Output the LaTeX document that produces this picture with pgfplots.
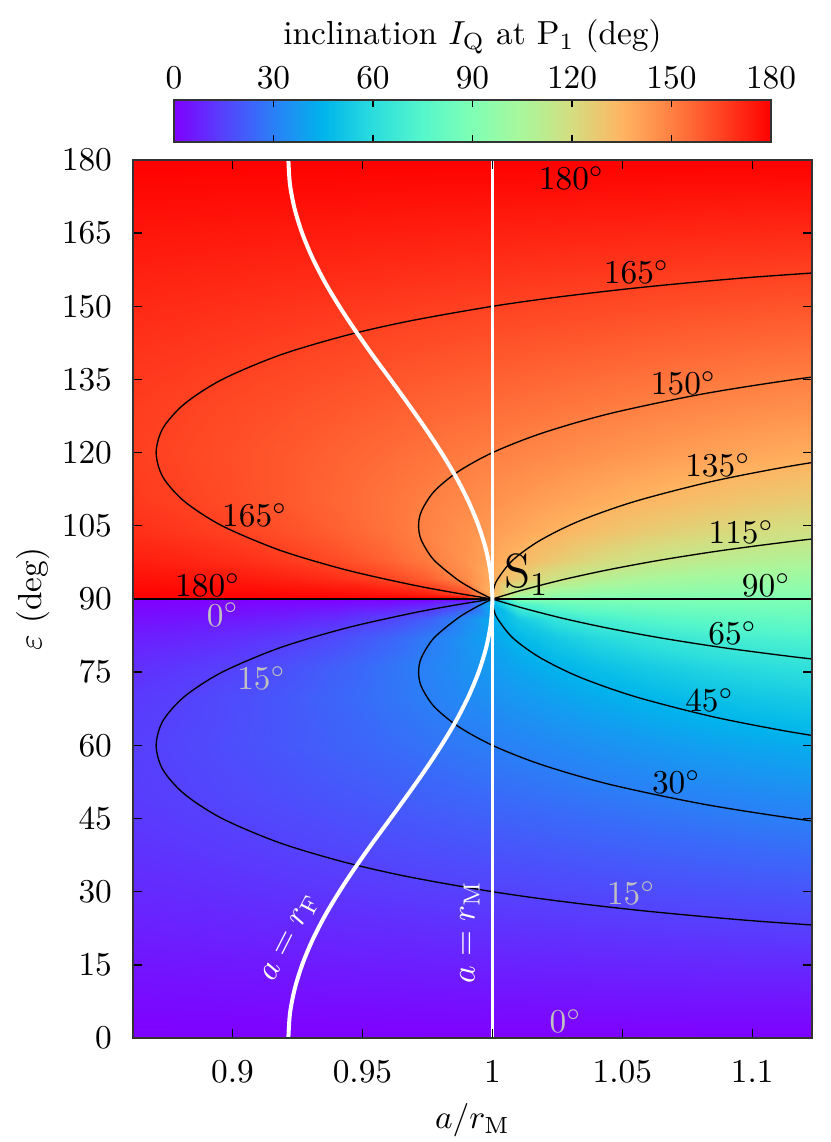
\documentclass[border=0pt]{standalone}
\usepackage{pgfplots}
\pgfplotsset{compat=1.18}
\definecolor{lblgray}{RGB}{192,192,192}
\begin{document}
\begin{tikzpicture}
\begin{axis}[
  name=main,
  scale only axis,
  width=203.7pt, height=263.4pt,
  xmin=0.8617, xmax=1.123, ymin=0, ymax=180,
  xtick={0.9,0.95,1,1.05,1.1},
  xticklabels={0.9,0.95,1,1.05,1.1},
  ytick={0,15,...,180},
  tick align=inside,
  major tick length=2.7pt,
  axis line style={black!80, line width=0.4pt},
  tick style={black, line width=0.4pt},
  axis on top,
  xticklabel style={yshift=-3.3pt},
  yticklabel style={xshift=-2.8pt},
  xlabel={$a/r_\mathrm{M}$},
  ylabel={$\varepsilon$ (deg)},
  xlabel style={at={(axis description cs:0.5,-0.0934)}, anchor=center},
  ylabel style={at={(axis description cs:-0.1473,0.5)}, anchor=center},
  colormap={gprb}{rgb=(0.5,0,1) rgb=(0.3333,0.2588,0.9914) rgb=(0.1667,0.5,0.9659)
    rgb=(0,0.7071,0.9239) rgb=(0.1667,0.8660,0.8660) rgb=(0.3333,0.9659,0.7934)
    rgb=(0.5,1,0.7071) rgb=(0.6667,0.9659,0.6088) rgb=(0.8333,0.8660,0.5)
    rgb=(1,0.7071,0.3827) rgb=(1,0.5,0.2588) rgb=(1,0.2588,0.1305) rgb=(1,0,0)},
  point meta min=0, point meta max=180,
  colorbar horizontal,
  colorbar style={
    at={(0.5,1.0205)}, anchor=south,
    scale only axis, width=179.1pt, height=12.6pt,
    xtick={0,30,...,180},
    xticklabel pos=upper,
    xtick pos=both,
    tick align=inside, major tick length=2.1pt,
    axis line style={black!80, line width=0.4pt},
    tick style={black, line width=0.4pt},
    xlabel={inclination $I_\mathrm{Q}$ at P$_1$ (deg)},
    xlabel style={at={(axis description cs:0.5,1)}, anchor=center, yshift=18.9pt},
  },
]
% lower half surface (epsilon 0..90)
\addplot[surf, shader=interp, point meta=explicit, mesh/cols=16] coordinates {
(0.8617,0)[0] (0.88,0)[0] (0.90,0)[0] (0.92,0)[0] (0.94,0)[0] (0.96,0)[0] (0.975,0)[0] (0.99,0)[0] (1.0,0)[0] (1.01,0)[0] (1.025,0)[0] (1.04,0)[0] (1.06,0)[0] (1.08,0)[0] (1.10,0)[0] (1.123,0)[0]
(0.8617,10)[3.2] (0.88,10)[3.4] (0.90,10)[3.7] (0.92,10)[4.0] (0.94,10)[4.2] (0.96,10)[4.5] (0.975,10)[4.7] (0.99,10)[4.9] (1.0,10)[5.0] (1.01,10)[5.1] (1.025,10)[5.3] (1.04,10)[5.5] (1.06,10)[5.7] (1.08,10)[6.0] (1.10,10)[6.2] (1.123,10)[6.4]
(0.8617,20)[6.4] (0.88,20)[6.8] (0.90,20)[7.3] (0.92,20)[7.9] (0.94,20)[8.4] (0.96,20)[8.9] (0.975,20)[9.3] (0.99,20)[9.7] (1.0,20)[10.0] (1.01,20)[10.3] (1.025,20)[10.6] (1.04,20)[11.0] (1.06,20)[11.5] (1.08,20)[12.0] (1.10,20)[12.4] (1.123,20)[12.9]
(0.8617,30)[9.3] (0.88,30)[9.9] (0.90,30)[10.8] (0.92,30)[11.6] (0.94,30)[12.5] (0.96,30)[13.3] (0.975,30)[14.0] (0.99,30)[14.6] (1.0,30)[15.0] (1.01,30)[15.4] (1.025,30)[16.0] (1.04,30)[16.6] (1.06,30)[17.4] (1.08,30)[18.1] (1.10,30)[18.8] (1.123,30)[19.6]
(0.8617,40)[11.8] (0.88,40)[12.7] (0.90,40)[13.9] (0.92,40)[15.1] (0.94,40)[16.3] (0.96,40)[17.6] (0.975,40)[18.5] (0.99,40)[19.4] (1.0,40)[20.0] (1.01,40)[20.6] (1.025,40)[21.5] (1.04,40)[22.3] (1.06,40)[23.5] (1.08,40)[24.5] (1.10,40)[25.6] (1.123,40)[26.6]
(0.8617,50)[13.6] (0.88,50)[14.9] (0.90,50)[16.5] (0.92,50)[18.1] (0.94,50)[19.8] (0.96,50)[21.5] (0.975,50)[22.9] (0.99,50)[24.1] (1.0,50)[25.0] (1.01,50)[25.9] (1.025,50)[27.1] (1.04,50)[28.3] (1.06,50)[29.9] (1.08,50)[31.4] (1.10,50)[32.8] (1.123,50)[34.2]
(0.8617,60)[14.3] (0.88,60)[15.9] (0.90,60)[18.0] (0.92,60)[20.2] (0.94,60)[22.6] (0.96,60)[25.0] (0.975,60)[26.9] (0.99,60)[28.8] (1.0,60)[30.0] (1.01,60)[31.2] (1.025,60)[33.0] (1.04,60)[34.8] (1.06,60)[37.0] (1.08,60)[39.1] (1.10,60)[41.0] (1.123,60)[42.9]
(0.8617,70)[13.0] (0.88,70)[14.8] (0.90,70)[17.4] (0.92,70)[20.3] (0.94,70)[23.6] (0.96,70)[27.2] (0.975,70)[30.1] (0.99,70)[33.0] (1.0,70)[35.0] (1.01,70)[37.0] (1.025,70)[39.8] (1.04,70)[42.5] (1.06,70)[45.8] (1.08,70)[48.8] (1.10,70)[51.4] (1.123,70)[53.8]
(0.8617,76)[10.7] (0.88,76)[12.5] (0.90,76)[15.0] (0.92,76)[18.3] (0.94,76)[22.2] (0.96,76)[26.9] (0.975,76)[30.9] (0.99,76)[35.1] (1.0,76)[38.0] (1.01,76)[40.9] (1.025,76)[44.9] (1.04,76)[48.7] (1.06,76)[53.1] (1.08,76)[56.7] (1.10,76)[59.6] (1.123,76)[62.1]
(0.8617,82)[6.9] (0.88,82)[8.2] (0.90,82)[10.3] (0.92,82)[13.2] (0.94,82)[17.2] (0.96,82)[23.1] (0.975,82)[28.9] (0.99,82)[35.9] (1.0,82)[41.0] (1.01,82)[46.0] (1.025,82)[52.8] (1.04,82)[58.4] (1.06,82)[63.9] (1.08,82)[67.8] (1.10,82)[70.5] (1.123,82)[72.7]
(0.8617,86)[3.6] (0.88,86)[4.4] (0.90,86)[5.6] (0.92,86)[7.4] (0.94,86)[10.3] (0.96,86)[15.3] (0.975,86)[21.9] (0.99,86)[33.1] (1.0,86)[43.0] (1.01,86)[52.8] (1.025,86)[63.7] (1.04,86)[70.2] (1.06,86)[75.1] (1.08,86)[77.9] (1.10,86)[79.7] (1.123,86)[81.0]
(0.8617,89)[0.9] (0.88,89)[1.1] (0.90,89)[1.4] (0.92,89)[1.9] (0.94,89)[2.7] (0.96,89)[4.4] (0.975,89)[7.2] (0.99,89)[16.9] (1.0,89)[44.5] (1.01,89)[72.0] (1.025,89)[81.6] (1.04,89)[84.4] (1.06,89)[86.1] (1.08,89)[86.9] (1.10,89)[87.4] (1.123,89)[87.7]
(0.8617,90)[0] (0.88,90)[0] (0.90,90)[0] (0.92,90)[0] (0.94,90)[0] (0.96,90)[0] (0.975,90)[0] (0.99,90)[0] (1.0,90)[45] (1.01,90)[90] (1.025,90)[90] (1.04,90)[90] (1.06,90)[90] (1.08,90)[90] (1.10,90)[90] (1.123,90)[90]
};
% upper half surface (epsilon 90..180)
\addplot[surf, shader=interp, point meta=explicit, mesh/cols=16] coordinates {
(0.8617,90)[180] (0.88,90)[180] (0.90,90)[180] (0.92,90)[180] (0.94,90)[180] (0.96,90)[180] (0.975,90)[180] (0.99,90)[180] (1.0,90)[135] (1.01,90)[90] (1.025,90)[90] (1.04,90)[90] (1.06,90)[90] (1.08,90)[90] (1.10,90)[90] (1.123,90)[90]
(0.8617,91)[179.1] (0.88,91)[178.9] (0.90,91)[178.6] (0.92,91)[178.1] (0.94,91)[177.3] (0.96,91)[175.6] (0.975,91)[172.8] (0.99,91)[163.1] (1.0,91)[135.5] (1.01,91)[108.0] (1.025,91)[98.4] (1.04,91)[95.6] (1.06,91)[93.9] (1.08,91)[93.1] (1.10,91)[92.6] (1.123,91)[92.3]
(0.8617,94)[176.4] (0.88,94)[175.6] (0.90,94)[174.4] (0.92,94)[172.6] (0.94,94)[169.7] (0.96,94)[164.7] (0.975,94)[158.1] (0.99,94)[146.9] (1.0,94)[137.0] (1.01,94)[127.2] (1.025,94)[116.3] (1.04,94)[109.8] (1.06,94)[104.9] (1.08,94)[102.1] (1.10,94)[100.3] (1.123,94)[99.0]
(0.8617,98)[173.1] (0.88,98)[171.8] (0.90,98)[169.7] (0.92,98)[166.8] (0.94,98)[162.8] (0.96,98)[156.9] (0.975,98)[151.1] (0.99,98)[144.1] (1.0,98)[139.0] (1.01,98)[134.0] (1.025,98)[127.2] (1.04,98)[121.6] (1.06,98)[116.1] (1.08,98)[112.2] (1.10,98)[109.5] (1.123,98)[107.3]
(0.8617,104)[169.3] (0.88,104)[167.5] (0.90,104)[165.0] (0.92,104)[161.7] (0.94,104)[157.8] (0.96,104)[153.1] (0.975,104)[149.1] (0.99,104)[144.9] (1.0,104)[142.0] (1.01,104)[139.1] (1.025,104)[135.1] (1.04,104)[131.3] (1.06,104)[126.9] (1.08,104)[123.3] (1.10,104)[120.4] (1.123,104)[117.9]
(0.8617,110)[167.0] (0.88,110)[165.2] (0.90,110)[162.6] (0.92,110)[159.7] (0.94,110)[156.4] (0.96,110)[152.8] (0.975,110)[149.9] (0.99,110)[147.0] (1.0,110)[145.0] (1.01,110)[143.0] (1.025,110)[140.2] (1.04,110)[137.5] (1.06,110)[134.2] (1.08,110)[131.2] (1.10,110)[128.6] (1.123,110)[126.2]
(0.8617,120)[165.7] (0.88,120)[164.1] (0.90,120)[162.0] (0.92,120)[159.8] (0.94,120)[157.4] (0.96,120)[155.0] (0.975,120)[153.1] (0.99,120)[151.2] (1.0,120)[150.0] (1.01,120)[148.8] (1.025,120)[147.0] (1.04,120)[145.2] (1.06,120)[143.0] (1.08,120)[140.9] (1.10,120)[139.0] (1.123,120)[137.1]
(0.8617,130)[166.4] (0.88,130)[165.1] (0.90,130)[163.5] (0.92,130)[161.9] (0.94,130)[160.2] (0.96,130)[158.5] (0.975,130)[157.1] (0.99,130)[155.9] (1.0,130)[155.0] (1.01,130)[154.1] (1.025,130)[152.9] (1.04,130)[151.7] (1.06,130)[150.1] (1.08,130)[148.6] (1.10,130)[147.2] (1.123,130)[145.8]
(0.8617,140)[168.2] (0.88,140)[167.3] (0.90,140)[166.1] (0.92,140)[164.9] (0.94,140)[163.7] (0.96,140)[162.4] (0.975,140)[161.5] (0.99,140)[160.6] (1.0,140)[160.0] (1.01,140)[159.4] (1.025,140)[158.5] (1.04,140)[157.7] (1.06,140)[156.5] (1.08,140)[155.5] (1.10,140)[154.4] (1.123,140)[153.4]
(0.8617,150)[170.7] (0.88,150)[170.1] (0.90,150)[169.2] (0.92,150)[168.4] (0.94,150)[167.5] (0.96,150)[166.7] (0.975,150)[166.0] (0.99,150)[165.4] (1.0,150)[165.0] (1.01,150)[164.6] (1.025,150)[164.0] (1.04,150)[163.4] (1.06,150)[162.6] (1.08,150)[161.9] (1.10,150)[161.2] (1.123,150)[160.4]
(0.8617,160)[173.6] (0.88,160)[173.2] (0.90,160)[172.7] (0.92,160)[172.1] (0.94,160)[171.6] (0.96,160)[171.1] (0.975,160)[170.7] (0.99,160)[170.3] (1.0,160)[170.0] (1.01,160)[169.7] (1.025,160)[169.4] (1.04,160)[169.0] (1.06,160)[168.5] (1.08,160)[168.0] (1.10,160)[167.6] (1.123,160)[167.1]
(0.8617,170)[176.8] (0.88,170)[176.6] (0.90,170)[176.3] (0.92,170)[176.0] (0.94,170)[175.8] (0.96,170)[175.5] (0.975,170)[175.3] (0.99,170)[175.1] (1.0,170)[175.0] (1.01,170)[174.9] (1.025,170)[174.7] (1.04,170)[174.5] (1.06,170)[174.3] (1.08,170)[174.0] (1.10,170)[173.8] (1.123,170)[173.6]
(0.8617,180)[180] (0.88,180)[180] (0.90,180)[180] (0.92,180)[180] (0.94,180)[180] (0.96,180)[180] (0.975,180)[180] (0.99,180)[180] (1.0,180)[180] (1.01,180)[180] (1.025,180)[180] (1.04,180)[180] (1.06,180)[180] (1.08,180)[180] (1.10,180)[180] (1.123,180)[180]
};
% contour lines
\addplot[black, line width=0.4pt, smooth] coordinates {(1.1563,22) (1.1010,24) (1.0595,26) (1.0267,28) (1.0,30) (0.9682,33) (0.9434,36) (0.9182,40) (0.8960,45) (0.8815,50) (0.8732,55) (0.8706,60) (0.8732,65) (0.8815,70) (0.8960,75) (0.9182,80) (0.9434,84) (0.9682,87) (0.9830,88.5) (0.9941,89.5) (1,90)};
\addplot[black, line width=0.4pt, smooth] coordinates {(1.1459,43) (1.1161,45) (1.0806,48) (1.0451,52) (1.0191,56) (1.0,60) (0.9865,64) (0.9775,68) (0.9727,72) (0.9716,75) (0.9727,78) (0.9775,82) (0.9865,86) (0.9926,88) (0.99615,89) (1,90)};
\addplot[black, line width=0.4pt, smooth] coordinates {(1.1354,61) (1.1121,63) (1.0837,66) (1.0548,70) (1.0335,74) (1.0183,78) (1.0079,82) (1.00195,86) (1.0005,88) (1,90)};
\addplot[black, line width=0.4pt, smooth] coordinates {(1.1441,76.5) (1.1181,78) (1.0891,80) (1.0650,82) (1.0447,84) (1.0274,86) (1.0127,88) (1.0062,89) (1,90)};
\addplot[black, line width=0.4pt] coordinates {(0.8617,90) (1.123,90)};
\addplot[black, line width=0.4pt, smooth] coordinates {(1.1563,158) (1.1010,156) (1.0595,154) (1.0267,152) (1.0,150) (0.9682,147) (0.9434,144) (0.9182,140) (0.8960,135) (0.8815,130) (0.8732,125) (0.8706,120) (0.8732,115) (0.8815,110) (0.8960,105) (0.9182,100) (0.9434,96) (0.9682,93) (0.9830,91.5) (0.9941,90.5) (1,90)};
\addplot[black, line width=0.4pt, smooth] coordinates {(1.1459,137) (1.1161,135) (1.0806,132) (1.0451,128) (1.0191,124) (1.0,120) (0.9865,116) (0.9775,112) (0.9727,108) (0.9716,105) (0.9727,102) (0.9775,98) (0.9865,94) (0.9926,92) (0.99615,91) (1,90)};
\addplot[black, line width=0.4pt, smooth] coordinates {(1.1354,119) (1.1121,117) (1.0837,114) (1.0548,110) (1.0335,106) (1.0183,102) (1.0079,98) (1.00195,94) (1.0005,92) (1,90)};
\addplot[black, line width=0.4pt, smooth] coordinates {(1.1441,103.5) (1.1181,102) (1.0891,100) (1.0650,98) (1.0447,96) (1.0274,94) (1.0127,92) (1.0062,91) (1,90)};
% white curves
\addplot[white, line width=0.9pt] coordinates {(1,0) (1,180)};
\addplot[white, line width=1.2pt, smooth] coordinates {(0.9215,0) (0.9221,5) (0.9239,10) (0.9268,15) (0.9307,20) (0.9355,25) (0.9411,30) (0.9473,35) (0.9539,40) (0.9608,45) (0.9676,50) (0.9742,55) (0.9804,60) (0.9860,65) (0.9908,70) (0.9947,75) (0.9976,80) (0.9994,85) (1,90) (0.9994,95) (0.9976,100) (0.9947,105) (0.9908,110) (0.9860,115) (0.9804,120) (0.9742,125) (0.9676,130) (0.9608,135) (0.9539,140) (0.9473,145) (0.9411,150) (0.9355,155) (0.9307,160) (0.9268,165) (0.9239,170) (0.9221,175) (0.9215,180)};
% labels
\node at (axis cs:1.0305,176.3) {$180^\circ$};
\node at (axis cs:1.0555,157.0) {$165^\circ$};
\node at (axis cs:1.0736,134.3) {$150^\circ$};
\node at (axis cs:1.0868,117.5) {$135^\circ$};
\node at (axis cs:1.0958,103.8) {$115^\circ$};
\node at (axis cs:1.1054,92.9) {$90^\circ$};
\node at (axis cs:0.9086,107.2) {$165^\circ$};
\node at (axis cs:0.8905,92.9) {$180^\circ$};
\node[text=lblgray] at (axis cs:0.8963,86.8) {$0^\circ$};
\node[text=lblgray] at (axis cs:0.9112,73.8) {$15^\circ$};
\node at (axis cs:1.0925,83.0) {$65^\circ$};
\node at (axis cs:1.0836,69.3) {$45^\circ$};
\node at (axis cs:1.0708,52.4) {$30^\circ$};
\node[text=lblgray] at (axis cs:1.0535,29.8) {$15^\circ$};
\node[text=lblgray] at (axis cs:1.0282,3.4) {$0^\circ$};
\node at (axis cs:1.0131,95.0) {\Large S$_1$};
\node[text=white, rotate=63, inner sep=0pt] at (axis cs:0.9225,20.5) {$a = r_\mathrm{F}$};
\node[text=white, rotate=90, inner sep=0pt] at (axis cs:0.9914,21.7) {$a = r_\mathrm{M}$};
\end{axis}
\path (main.south west) ++(-39.9pt,-31.2pt) coordinate (bbl);
\path (main.north east) ++(5.4pt,48pt) coordinate (btr);
\pgfresetboundingbox
\path[use as bounding box] (bbl) rectangle (btr);
\end{tikzpicture}
\end{document}
